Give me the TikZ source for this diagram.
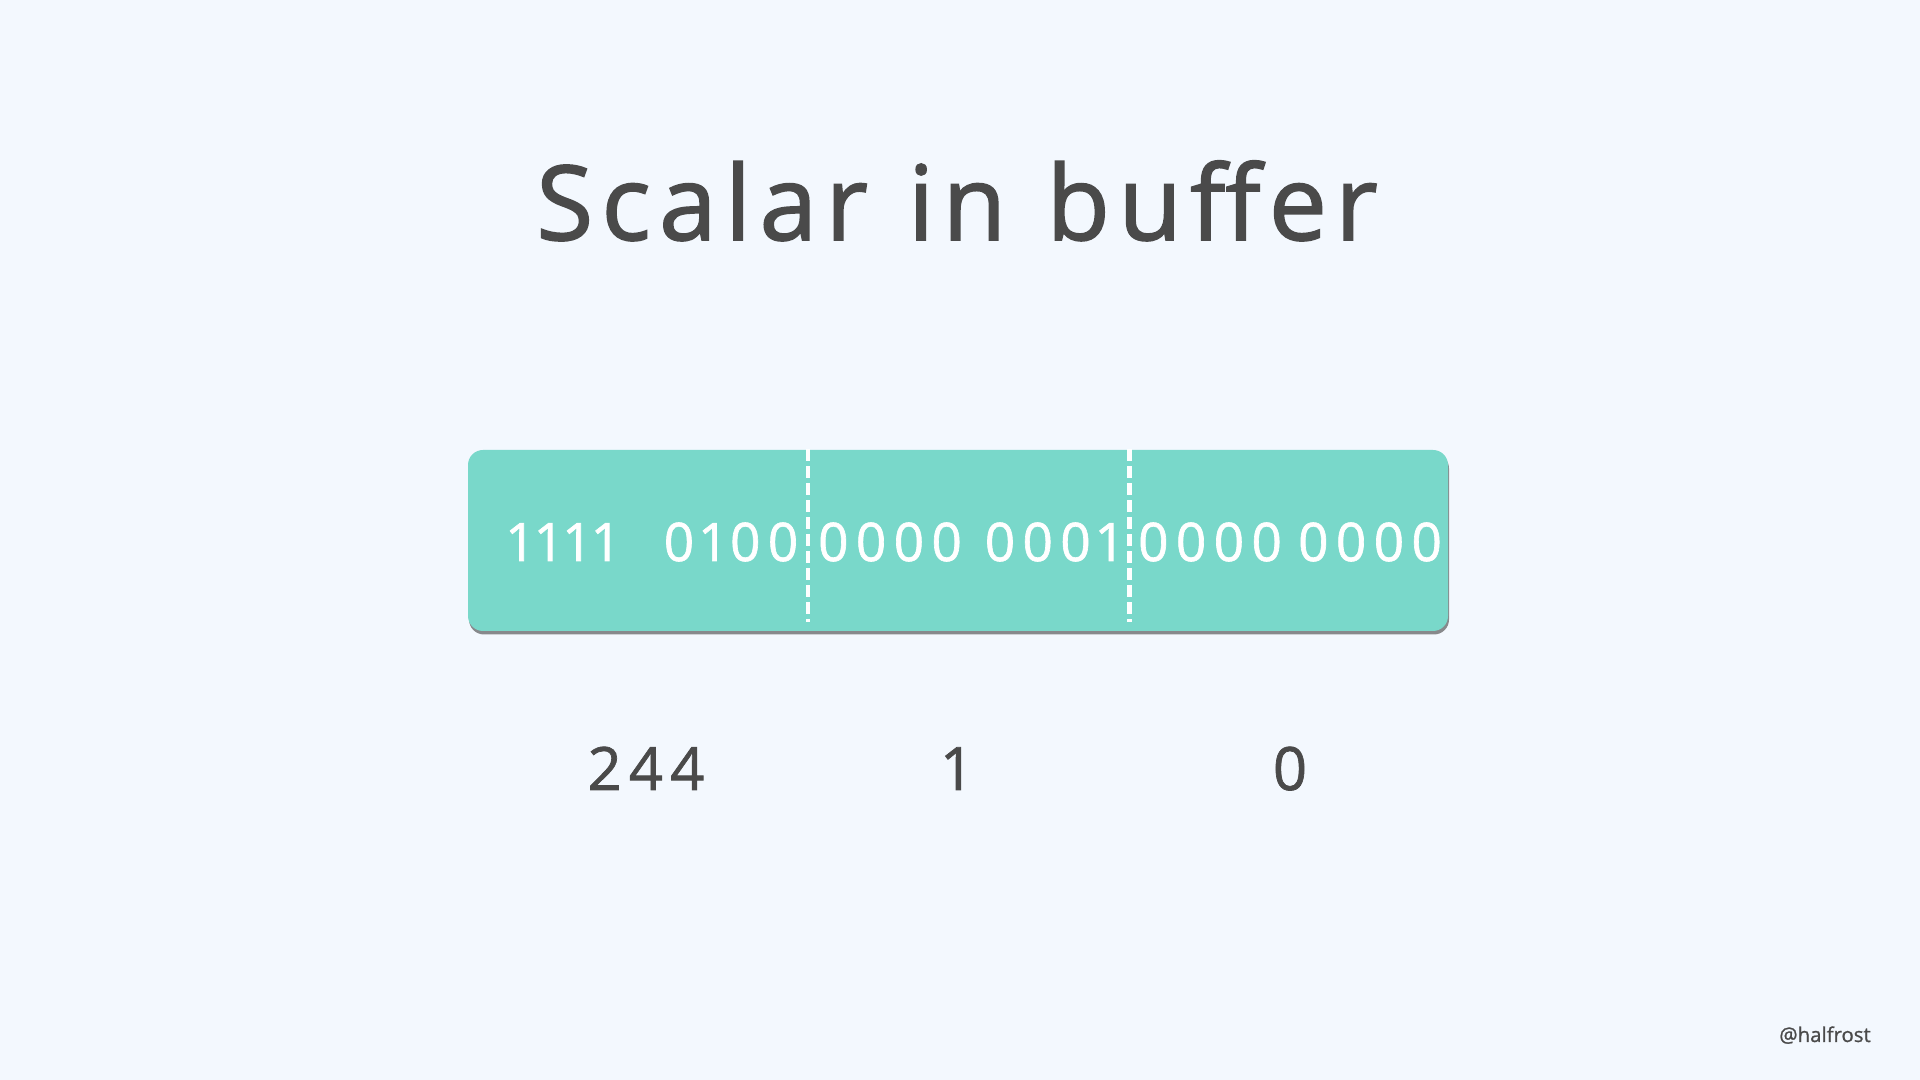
\documentclass[tikz,border=0pt]{standalone}
\usepackage{fontspec}
\setmainfont{Open Sans}
\usepackage{xcolor}
\usetikzlibrary{positioning, calc, shadows}

\definecolor{bgblue}{HTML}{F3F8FE}
\definecolor{bufteal}{HTML}{79D8CA}
\definecolor{inkgray}{HTML}{4A4A4A}

\begin{document}
\begin{tikzpicture}[
            bufbox/.style={rectangle, rounded corners=0.15cm, fill=bufteal, minimum width=9.8cm, minimum height=1.81cm,
                drop shadow={opacity=0.6, shadow xshift=0.01cm, shadow yshift=-0.035cm, fill=black!75}},
            bits/.style={anchor=base, text=white, font=\fontsize{15.1}{18}\selectfont\addfontfeatures{LetterSpace=14, Numbers=Proportional, FakeBold=1.2}},
            value/.style={anchor=base, text=inkgray, font=\fontsize{17}{20}\selectfont\addfontfeatures{LetterSpace=12, FakeBold=1.2}},
            cut/.style={draw=white, line width=0.045cm, dash pattern=on 0.12cm off 0.05cm}
        ]

% Background
            \fill[bgblue] (0,0) rectangle (19.2,10.8);
            \useasboundingbox (0,0) rectangle (19.2,10.8);

% Title
            \node[anchor=base, text=inkgray, font=\fontsize{29.5}{34}\selectfont\addfontfeatures{LetterSpace=8, FakeBold=1.6}] (title) at (9.57,8.40) {Scalar\hspace{0.05cm} in\hspace{0.05cm} buffer};

% Buffer
            \node[bufbox] (buffer) at (9.58,5.395) {};

% Byte borders
            \coordinate (cutAtop) at ($(buffer.north west)!0.347!(buffer.north east)$);
            \coordinate (cutBtop) at ($(buffer.north west)!0.6745!(buffer.north east)$);
            \draw[cut] (cutAtop) -- ++(0,-1.73);
            \draw[cut] (cutBtop) -- ++(0,-1.73);

% Bits
            \node[bits] (nibA) at (5.62,5.19) {1111};
            \node[bits] (nibB) at (7.31,5.19) {0100};
            \node[bits] (nibC) at (8.90,5.19) {0000};
            \node[bits] (nibD) at (10.52,5.19) {0001};
            \node[bits] (nibE) at (12.10,5.19) {0000};
            \node[bits] (nibF) at (13.70,5.19) {0000};

% Byte values
            \node[value] (valA) at (6.46,2.90) {244};
            \node[value] (valB) at (9.57,2.90) {1};
            \node[value] (valC) at (12.90,2.90) {0};

% Signature
            \node[anchor=base, text=inkgray, font=\fontsize{5.8}{7}\selectfont\addfontfeatures{FakeBold=1}] (sign) at (18.25,0.38) {@halfrost};

        \end{tikzpicture}
\end{document}
